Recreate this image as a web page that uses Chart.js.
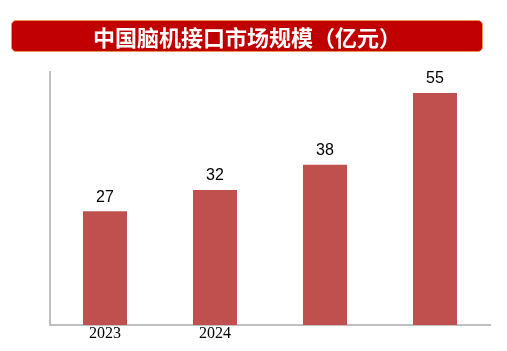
<!DOCTYPE html>
<html>
<head>
<meta charset="utf-8">
<script src="https://cdn.jsdelivr.net/npm/chart.js@4"></script>
<style>
  html, body { margin: 0; padding: 0; background: #fff; }
  #wrap { position: relative; width: 507px; height: 351px; }
  #banner {
    position: absolute; left: 11px; top: 20px; width: 470px; height: 30px;
    background: #c00000; border: 1px solid #f0905a; border-radius: 5px;
    color: #fff; font: bold 22px "Noto Sans CJK SC", sans-serif;
    text-align: center; line-height: 30px;
  }
  #chart { position: absolute; left: 0; top: 0; }
</style>
</head>
<body>
<div id="wrap">
  <canvas id="chart" width="507" height="351"></canvas>
  <div id="banner">中国脑机接口市场规模（亿元）</div>
</div>
<script>
let categories = ["2023", "2024", "", ""];
let values = [27, 32, 38, 55];

let bar_color = "#c0504d";
let axis_color = "#bfbfbf";

// value labels on top of bars
let valueLabels = {
  id: "valueLabels",
  afterDatasetsDraw(chart) {
    let ctx = chart.ctx;
    let meta = chart.getDatasetMeta(0);
    ctx.save();
    ctx.fillStyle = "#000";
    ctx.font = "16px 'Liberation Sans', Arial, sans-serif";
    ctx.textAlign = "center";
    ctx.textBaseline = "middle";
    meta.data.forEach((bar, i) => {
      ctx.fillText(values[i], bar.x, bar.y - 14);
    });
    ctx.restore();
  },
};

let config = {
  type: "bar",
  data: {
    labels: categories,
    datasets: [
      {
        data: values,
        backgroundColor: bar_color,
        barPercentage: 0.4,
        categoryPercentage: 1,
      },
    ],
  },
  options: {
    responsive: false,
    animation: false,
    layout: { padding: { left: 42, right: 17, top: 72, bottom: 0 } },
    plugins: {
      legend: { display: false },
      tooltip: { enabled: false },
    },
    scales: {
      x: {
        grid: { display: false, drawTicks: false },
        border: { color: axis_color, width: 2 },
        ticks: {
          color: "#000",
          font: { family: "'Liberation Serif', 'Times New Roman', serif", size: 16, lineHeight: 1 },
          padding: 1,
        },
        afterFit: (scale) => {
          scale.height = 26;
        },
      },
      y: {
        min: 0,
        max: 60,
        grid: { display: false },
        border: { color: axis_color, width: 2 },
        ticks: { display: false },
      },
    },
  },
  plugins: [valueLabels],
};

new Chart(document.getElementById("chart"), config);
</script>
</body>
</html>
